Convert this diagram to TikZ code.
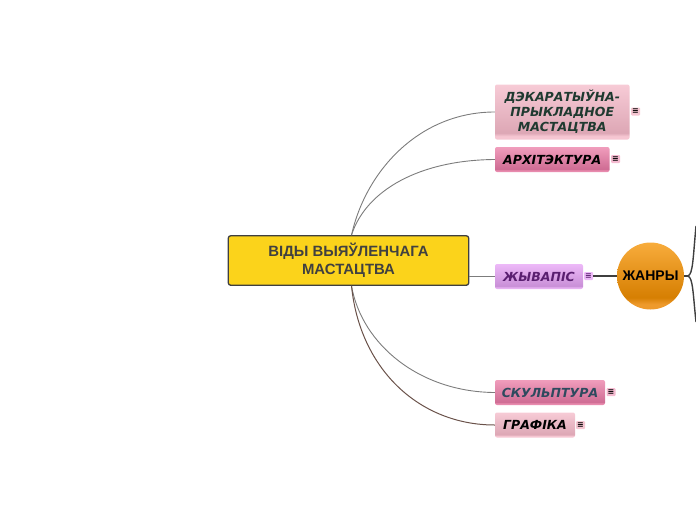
\documentclass[tikz,border=0pt]{standalone}
\usepackage{fontspec}
\setmainfont{DejaVu Sans}
\newfontfamily\rootfont{Liberation Sans}
\definecolor{rootfill}{HTML}{FBD31B}
\definecolor{rootline}{HTML}{3F3F3F}
\definecolor{roottext}{HTML}{404040}
\definecolor{darklink}{HTML}{6A524A}
\definecolor{greylink}{HTML}{7C7C7C}
\definecolor{dektext}{HTML}{1F3A30}
\definecolor{skutext}{HTML}{2E4A5E}
\definecolor{zhytext}{HTML}{5A1F70}
\definecolor{pinkA}{HTML}{F7CBD6}
\definecolor{pinkB}{HTML}{DDA7B5}
\definecolor{pinkC}{HTML}{F6C6D2}
\definecolor{roseA}{HTML}{F09DBC}
\definecolor{roseB}{HTML}{CF6D94}
\definecolor{roseC}{HTML}{E88BAE}
\definecolor{lilacA}{HTML}{EDB9F8}
\definecolor{lilacB}{HTML}{C98FD7}
\definecolor{lilacC}{HTML}{E6B0F1}
\definecolor{orangeA}{HTML}{F8AC3C}
\definecolor{orangeB}{HTML}{D67F02}
\definecolor{orangeC}{HTML}{EE9A2C}
\pgfdeclareverticalshading{pinkshade}{100bp}{color(0bp)=(pinkC); color(28bp)=(pinkC); color(31bp)=(pinkB); color(75bp)=(pinkA); color(100bp)=(pinkA)}
\pgfdeclareverticalshading{roseshade}{100bp}{color(0bp)=(roseC); color(28bp)=(roseC); color(31bp)=(roseB); color(75bp)=(roseA); color(100bp)=(roseA)}
\pgfdeclareverticalshading{lilacshade}{100bp}{color(0bp)=(lilacC); color(28bp)=(lilacC); color(31bp)=(lilacB); color(75bp)=(lilacA); color(100bp)=(lilacA)}
\pgfdeclareverticalshading{orangeshade}{100bp}{color(0bp)=(orangeC); color(29bp)=(orangeC); color(34bp)=(orangeB); color(75bp)=(orangeA); color(100bp)=(orangeA)}
\tikzset{
  x=1pt,y=-1pt,
  topic/.style={rounded corners=2pt, inner sep=0pt, font=\bfseries\itshape\fontsize{12.5}{15}\selectfont, align=center},
  rootnode/.style={draw=rootline, line width=1.3pt, fill=rootfill, rounded corners=2.5pt, text=roottext, inner sep=0pt, align=center, font=\rootfont\bfseries\fontsize{14.9}{18}\selectfont},
  marker/.style={minimum width=9pt, minimum height=8pt, inner sep=0pt, rounded corners=1pt, font=\bfseries\fontsize{8}{8}\selectfont},
  link/.style={draw=greylink, line width=0.9pt},
  darkedge/.style={draw=darklink, line width=1pt},
  thick link/.style={draw=rootline, line width=1.4pt}
}
\begin{document}
\begin{tikzpicture}
\useasboundingbox (0,0) rectangle (696,520);

\node[rootnode, minimum width=240.5pt, minimum height=49.5pt] (root) at (348.5,260.5) {ВІДЫ ВЫЯЎЛЕНЧАГА\\МАСТАЦТВА};

\node[topic, shading=pinkshade, text=dektext, minimum width=134.5pt, minimum height=55pt] (dek) at (562.25,112) {ДЭКАРАТЫЎНА-\\ПРЫКЛАДНОЕ\\МАСТАЦТВА};
\node[topic, shading=roseshade, text=black, minimum width=114.5pt, minimum height=25pt] (arh) at (552.25,159.5) {АРХІТЭКТУРА};
\node[topic, shading=lilacshade, text=zhytext, minimum width=88pt, minimum height=25pt] (zhy) at (539,276.5) {ЖЫВАПІС};
\node[topic, shading=roseshade, text=skutext, minimum width=110pt, minimum height=25pt] (sku) at (550,392.5) {СКУЛЬПТУРА};
\node[topic, shading=pinkshade, text=black, minimum width=80pt, minimum height=25pt] (gra) at (535,425) {ГРАФІКА};

\node[marker, fill=pinkC] (m1) at (635.5,111.5) {≡};
\node[marker, fill=roseA!70!white] (m2) at (615.5,159) {≡};
\node[marker, fill=lilacA, text=zhytext] (m3) at (588.5,276) {≡};
\node[marker, fill=roseA!70!white] (m4) at (611,392) {≡};
\node[marker, fill=pinkC] (m5) at (580.5,425) {≡};

\node[circle, minimum size=67pt, inner sep=0pt, shading=orangeshade, font=\rootfont\bfseries\fontsize{14}{16}\selectfont] (zhanry) at (650.5,276) {ЖАНРЫ};

\coordinate (g1) at (696,226);
\coordinate (g2) at (696,322);
\coordinate (gj) at (688,276);

\draw[link] ([xshift=3pt]root.north) .. controls (366,170) and (420,112) .. (dek.west);
\draw[link] ([xshift=3pt]root.north) .. controls (366,190) and (420,160) .. (arh.west);
\draw[link] (root.east |- zhy.west) -- (zhy.west);
\draw[link] ([xshift=3pt]root.south) .. controls (362,345) and (420,392) .. (sku.west);
\draw[darkedge] ([xshift=3pt]root.south) .. controls (360,370) and (420,425) .. (gra.west);

\draw[thick link] (m3.east) -- (zhanry.west);
\draw[thick link] (zhanry.east) -- (gj);
\draw[thick link] (gj) .. controls (693,274) and (693,258) .. (g1);
\draw[thick link] (gj) .. controls (693,278) and (693,294) .. (g2);
\end{tikzpicture}
\end{document}
